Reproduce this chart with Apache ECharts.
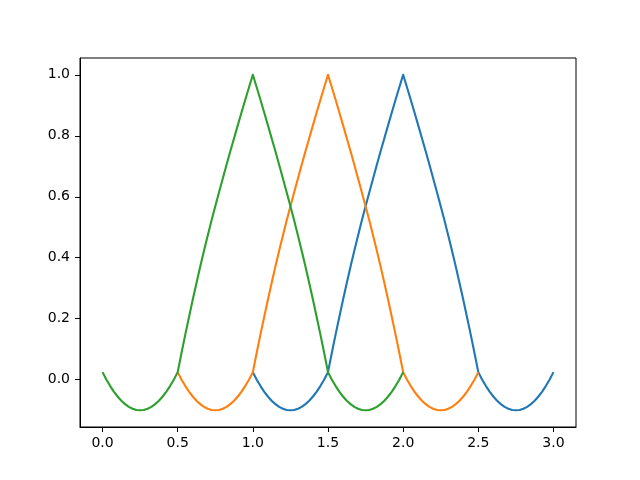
<!DOCTYPE html>
<html>
<head>
<meta charset="utf-8">
<script src="https://cdn.jsdelivr.net/npm/echarts@6/dist/echarts.min.js"></script>
<style>
html,body{margin:0;padding:0;background:#fff;}
#chart{width:640px;height:480px;}
</style>
</head>
<body>
<div id="chart"></div>
<script>
var xValues = [
  0.000,0.025,0.050,0.075,0.100,0.125,0.150,0.175,0.200,0.225,
  0.250,0.275,0.300,0.325,0.350,0.375,0.400,0.425,0.450,0.475,
  0.500,0.525,0.550,0.575,0.600,0.625,0.650,0.675,0.700,0.725,
  0.750,0.775,0.800,0.825,0.850,0.875,0.900,0.925,0.950,0.975,
  1.000,1.025,1.050,1.075,1.100,1.125,1.150,1.175,1.200,1.225,
  1.250,1.275,1.300,1.325,1.350,1.375,1.400,1.425,1.450,1.475,
  1.500,1.525,1.550,1.575,1.600,1.625,1.650,1.675,1.700,1.725,
  1.750,1.775,1.800,1.825,1.850,1.875,1.900,1.925,1.950,1.975,
  2.000,2.025,2.050,2.075,2.100,2.125,2.150,2.175,2.200,2.225,
  2.250,2.275,2.300,2.325,2.350,2.375,2.400,2.425,2.450,2.475,
  2.500,2.525,2.550,2.575,2.600,2.625,2.650,2.675,2.700,2.725,
  2.750,2.775,2.800,2.825,2.850,2.875,2.900,2.925,2.950,2.975,
  3.000];

var greenY = [
  0.025,0.001,-0.020,-0.039,-0.055,-0.069,-0.080,-0.089,-0.095,-0.099,
  -0.100,-0.099,-0.095,-0.089,-0.080,-0.069,-0.055,-0.039,-0.020,0.001,
  0.025,0.087,0.147,0.205,0.262,0.317,0.371,0.423,0.473,0.522,
  0.569,0.615,0.660,0.705,0.749,0.792,0.835,0.877,0.919,0.960,
  1.000,0.960,0.919,0.877,0.835,0.792,0.749,0.705,0.660,0.615,
  0.569,0.522,0.473,0.423,0.371,0.317,0.262,0.205,0.147,0.087,
  0.025,0.001,-0.020,-0.039,-0.055,-0.069,-0.080,-0.089,-0.095,-0.099,
  -0.100,-0.099,-0.095,-0.089,-0.080,-0.069,-0.055,-0.039,-0.020,0.001,
  0.025,null,null,null,null,null,null,null,null,null,
  null,null,null,null,null,null,null,null,null,null,
  null,null,null,null,null,null,null,null,null,null,
  null,null,null,null,null,null,null,null,null,null,
  null];

var orangeY = [
  null,null,null,null,null,null,null,null,null,null,
  null,null,null,null,null,null,null,null,null,null,
  0.025,0.001,-0.020,-0.039,-0.055,-0.069,-0.080,-0.089,-0.095,-0.099,
  -0.100,-0.099,-0.095,-0.089,-0.080,-0.069,-0.055,-0.039,-0.020,0.001,
  0.025,0.087,0.147,0.205,0.262,0.317,0.371,0.423,0.473,0.522,
  0.569,0.615,0.660,0.705,0.749,0.792,0.835,0.877,0.919,0.960,
  1.000,0.960,0.919,0.877,0.835,0.792,0.749,0.705,0.660,0.615,
  0.569,0.522,0.473,0.423,0.371,0.317,0.262,0.205,0.147,0.087,
  0.025,0.001,-0.020,-0.039,-0.055,-0.069,-0.080,-0.089,-0.095,-0.099,
  -0.100,-0.099,-0.095,-0.089,-0.080,-0.069,-0.055,-0.039,-0.020,0.001,
  0.025,null,null,null,null,null,null,null,null,null,
  null,null,null,null,null,null,null,null,null,null,
  null];

var blueY = [
  null,null,null,null,null,null,null,null,null,null,
  null,null,null,null,null,null,null,null,null,null,
  null,null,null,null,null,null,null,null,null,null,
  null,null,null,null,null,null,null,null,null,null,
  0.025,0.001,-0.020,-0.039,-0.055,-0.069,-0.080,-0.089,-0.095,-0.099,
  -0.100,-0.099,-0.095,-0.089,-0.080,-0.069,-0.055,-0.039,-0.020,0.001,
  0.025,0.087,0.147,0.205,0.262,0.317,0.371,0.423,0.473,0.522,
  0.569,0.615,0.660,0.705,0.749,0.792,0.835,0.877,0.919,0.960,
  1.000,0.960,0.919,0.877,0.835,0.792,0.749,0.705,0.660,0.615,
  0.569,0.522,0.473,0.423,0.371,0.317,0.262,0.205,0.147,0.087,
  0.025,0.001,-0.020,-0.039,-0.055,-0.069,-0.080,-0.089,-0.095,-0.099,
  -0.100,-0.099,-0.095,-0.089,-0.080,-0.069,-0.055,-0.039,-0.020,0.001,
  0.025];

var xTicks = [0.0,0.5,1.0,1.5,2.0,2.5,3.0];
var yTicks = [0.0,0.2,0.4,0.6,0.8,1.0];

function pairs(ys){
  var out = [];
  for (var i = 0; i < xValues.length; i++) {
    if (ys[i] !== null) out.push([xValues[i], ys[i]]);
  }
  return out;
}

var font = 'DejaVu Sans';
var chart = echarts.init(document.getElementById('chart'), null, {renderer:'canvas'});
function mkSeries(ys, color){
  return {
    type:'line', data:pairs(ys), showSymbol:false, symbol:'none',
    lineStyle:{color:color, width:2.1, join:'round', cap:'butt'},
    itemStyle:{color:color}, smooth:false, animation:false, z:2
  };
}
chart.setOption({
  animation:false,
  backgroundColor:'#ffffff',
  grid:{left:80, right:64, top:58, bottom:53, show:true, borderColor:'#000', borderWidth:1, backgroundColor:'#fff'},
  xAxis:{
    type:'value', min:-0.15, max:3.15,
    axisLine:{show:true, onZero:false, lineStyle:{color:'#000', width:1}},
    axisTick:{show:true, customValues:xTicks, length:5, lineStyle:{color:'#000', width:1}},
    axisLabel:{customValues:xTicks, margin:9, color:'#000', fontFamily:font, fontSize:14,
      formatter:function(v){return Number(v).toFixed(1);}},
    splitLine:{show:false}
  },
  yAxis:{
    type:'value', min:-0.155, max:1.055,
    axisLine:{show:true, onZero:false, lineStyle:{color:'#000', width:1}},
    axisTick:{show:true, customValues:yTicks, length:5, lineStyle:{color:'#000', width:1}},
    axisLabel:{customValues:yTicks, margin:10, color:'#000', fontFamily:font, fontSize:14,
      formatter:function(v){return Number(v).toFixed(1);}},
    splitLine:{show:false}
  },
  series:[
    mkSeries(blueY, '#1f77b4'),
    mkSeries(orangeY, '#ff7f0e'),
    mkSeries(greenY, '#2ca02c')
  ]
});
</script>
</body>
</html>
